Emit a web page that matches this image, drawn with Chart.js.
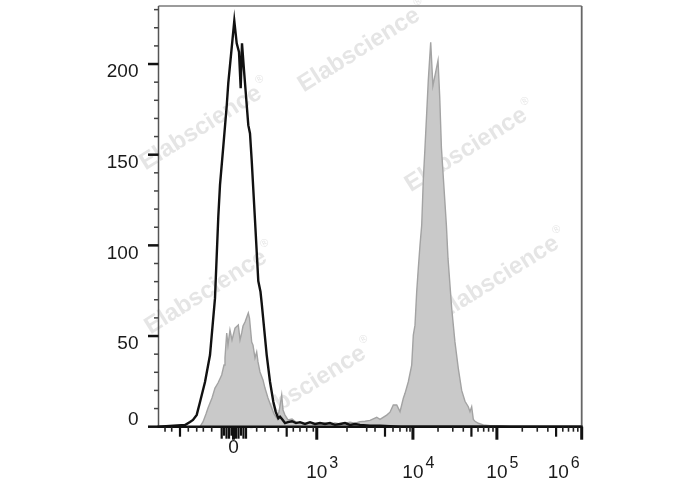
<!DOCTYPE html>
<html><head><meta charset="utf-8">
<script src="https://cdn.jsdelivr.net/npm/chart.js@4.4.0/dist/chart.umd.min.js"></script>
<style>html,body{margin:0;padding:0;background:#fff;}</style>
</head><body>
<canvas id="c" width="688" height="490"></canvas>
<script>
// ---- Data (x in display channels 0..1000 of the biexponential axis, y in counts) ----
const blackX = [0, 62.6, 74.4, 81.5, 90.3, 98.1, 109.9, 121.7, 133.5, 141.3, 145.3, 153.1, 161.2, 164.9, 179.1, 184.8, 190.2, 194.2, 197.3, 202.0, 212.2, 216.2, 220.2, 228.0, 235.8, 241.0, 243.9, 255.7, 263.5, 271.3, 276.9, 283.1, 287.1, 291.8, 298.9, 306.0, 315.5, 324.9, 334.3, 346.2, 358.0, 369.8, 381.6, 393.4, 405.2, 417.0, 428.9, 440.7, 452.5, 464.3, 476.1, 499.8, 523.4, 570.7, 1000];
const blackY = [0, 0.9, 2.6, 3.7, 6.5, 13.6, 24.6, 39.5, 70.9, 115.8, 133.2, 154.4, 177, 189.5, 223.8, 211.4, 206.7, 186.7, 211.4, 196.6, 166.3, 161.7, 147, 114, 80.3, 74.4, 68, 39.5, 24.8, 13.8, 8.3, 4.6, 5.5, 4.2, 2, 2.5, 3, 2, 2.5, 1.5, 2.5, 1.5, 2, 1.5, 2, 1, 1.5, 2, 1, 1.5, 1, 0.5, 0.5, 0, 0];

const grayX = [0, 98.1, 105.1, 112.2, 117.0, 126.4, 133.5, 140.6, 149.3, 154.8, 157.1, 161.2, 164.2, 168.9, 173.7, 180.8, 188.6, 192.6, 196.6, 199.7, 204.4, 212.2, 215.0, 220.2, 223.3, 228.0, 232.0, 235.1, 239.8, 246.9, 251.6, 258.7, 267.5, 272.9, 279.3, 284.7, 291.1, 294.2, 298.9, 306.0, 315.5, 324.9, 334.3, 346.2, 358.0, 369.8, 381.6, 393.4, 405.2, 417.0, 428.9, 440.7, 452.5, 464.3, 476.1, 487.9, 499.8, 515.6, 523.4, 539.2, 547.0, 554.8, 562.9, 570.7, 578.5, 582.5, 590.3, 598.3, 602.1, 606.1, 610.1, 613.9, 617.9, 621.9, 625.7, 629.7, 633.7, 637.5, 643.2, 648.4, 660.5, 664.5, 668.5, 672.3, 680.3, 684.1, 692.8, 700.4, 708.4, 716.4, 724.2, 732.0, 736.0, 740.0, 743.9, 747.9, 755.7, 767.5, 783.3, 807.0, 830.6, 1000];
const grayY = [0, 0, 2.6, 7, 10.3, 15.8, 21.3, 24.1, 28.5, 34, 37.9, 51.7, 45, 53.3, 47.8, 54.4, 56.1, 47.8, 51.7, 55.5, 57.7, 62.7, 59.9, 46.7, 45, 37.9, 41.2, 35.7, 30.2, 25.8, 21.3, 15.8, 10.3, 7, 4.8, 8.1, 17.5, 9.2, 6.4, 3.7, 4.2, 2.6, 2, 1.5, 2, 1, 1.5, 2, 1.5, 2, 1.5, 2, 2.5, 2, 2.8, 3, 3.5, 5.2, 4, 6.4, 8, 12, 12, 8.3, 15.7, 18.4, 24.8, 34, 50.5, 56, 74.4, 87.3, 100, 111, 136, 154, 172.8, 191, 212, 188, 202, 182, 154, 140, 111, 92.8, 65.3, 46.9, 32.2, 20, 14, 11, 8.3, 11, 4, 3, 1.9, 1, 0.5, 0.5, 0, 0];

// ---- Axis ticks ----
const xMajorTicks = [177.2, 374, 601.2, 799.6, 1000];
const xMajorLabels = ['0', '10^3', '10^4', '10^5', '10^6'];
const xLongTicks = [50.8, 302.9, 535.2, 739.4, 939.5];
const xShortTicks = [15.4, 31.2, 70.4, 90.3, 105.9, 125.7, 232.0, 251.6, 283.1, 318.5, 334.3, 350.2, 365.8,
  445.4, 492.0, 511.6, 554.1, 570.6, 586.5, 594.3,
  660.5, 695.4, 720.2, 755.0, 768.4, 780.0, 790.4,
  859.6, 895.0, 920.0, 955.3, 968.8, 980.4, 990.8];
const xZeroCluster = [149.3, 154.8, 160.7, 166.6, 172.5, 183.1, 189.0, 194.9, 200.8, 206.8];
const yMajorTicks = [0, 50, 100, 150, 200];
const yMajorLabels = ['0', '50', '100', '150', '200'];
const yMinorTicks = [10, 20, 30, 40, 60, 70, 80, 90, 110, 120, 130, 140, 160, 170, 180, 190, 210, 220, 230];
const watermarkText = 'Elabscience';
const watermarkSpots = [[0.474, 0.105], [0.100, 0.290], [0.727, 0.342], [0.112, 0.680], [0.802, 0.647], [0.346, 0.908]];

const toPts = (xs, ys) => xs.map((v, i) => ({x: v, y: ys[i]}));
const FONT = '"Liberation Sans", Arial, Helvetica, sans-serif';

const flowAxes = {
  id: 'flowAxes',
  beforeDatasetsDraw(chart) {
    const {ctx, chartArea: a} = chart;
    ctx.save();
    ctx.fillStyle = 'rgba(170,170,170,0.30)';
    ctx.textAlign = 'center';
    ctx.textBaseline = 'middle';
    watermarkSpots.forEach(([fx, fy]) => {
      const cx = a.left + fx * (a.right - a.left);
      const cy = a.top + fy * (a.bottom - a.top);
      ctx.save();
      ctx.translate(cx, cy);
      ctx.rotate(-32 * Math.PI / 180);
      ctx.font = 'bold 24px ' + FONT;
      ctx.fillText(watermarkText, 0, 0);
      const w = ctx.measureText(watermarkText).width;
      ctx.font = '11px ' + FONT;
      ctx.textAlign = 'left';
      ctx.fillText('\u00AE', w / 2 + 2, -10);
      ctx.restore();
    });
    ctx.restore();
  },
  afterDraw(chart) {
    const {ctx, chartArea: a, scales: {x, y}} = chart;
    ctx.save();
    const line = (x1, y1, x2, y2, w, c) => {
      ctx.strokeStyle = c; ctx.lineWidth = w;
      ctx.beginPath(); ctx.moveTo(x1, y1); ctx.lineTo(x2, y2); ctx.stroke();
    };
    // frame
    line(a.left, a.top, a.right, a.top, 1.5, '#7a7a7a');
    line(a.right, a.top, a.right, a.bottom, 1.8, '#666');
    line(a.left, a.top, a.left, a.bottom, 1.5, '#555');
    line(a.left - 1, a.bottom, a.right + 1, a.bottom, 2.5, '#111');
    // y ticks
    yMinorTicks.forEach(v => { const p = y.getPixelForValue(v); line(a.left - 4.5, p, a.left, p, 1.5, '#444'); });
    yMajorTicks.forEach(v => { const p = y.getPixelForValue(v); line(a.left - 10.5, p, a.left, p, 2.5, '#111'); });
    ctx.fillStyle = '#1a1a1a';
    ctx.font = '19px ' + FONT;
    ctx.textAlign = 'right';
    ctx.textBaseline = 'middle';
    yMajorTicks.forEach((v, i) => {
      const p = y.getPixelForValue(v) + (v === 0 ? -7 : 8);
      ctx.fillText(yMajorLabels[i], a.left - 20, p);
    });
    // x ticks
    const b = a.bottom;
    xShortTicks.forEach(v => { const p = x.getPixelForValue(v); line(p, b, p, b + 5, 1.6, '#222'); });
    xLongTicks.forEach(v => { const p = x.getPixelForValue(v); line(p, b, p, b + 10, 2.2, '#111'); });
    xZeroCluster.forEach((v, i) => { const p = x.getPixelForValue(v); line(p, b, p, b + (i % 3 === 1 ? 9 : 12), 2.2, '#111'); });
    xMajorTicks.forEach(v => { const p = x.getPixelForValue(v); line(p, b, p, b + 13, 3, '#111'); });
    // x labels
    xMajorLabels.forEach((lab, i) => {
      const p = x.getPixelForValue(xMajorTicks[i]);
      if (lab.indexOf('^') < 0) {
        ctx.font = '19px ' + FONT; ctx.textAlign = 'center'; ctx.textBaseline = 'middle';
        ctx.fillText(lab, p, b + 21);
        return;
      }
      const [base, exp] = lab.split('^');
      ctx.textBaseline = 'alphabetic'; ctx.textAlign = 'left';
      ctx.font = '19px ' + FONT;
      const wb = ctx.measureText(base).width;
      ctx.font = '16px ' + FONT;
      const we = ctx.measureText(exp).width;
      let start = p - wb / 2;
      if (start + wb + 2 + we > a.right) start = a.right - 2 - (wb + 2 + we);
      ctx.font = '19px ' + FONT;
      ctx.fillText(base, start, b + 51);
      ctx.font = '16px ' + FONT;
      ctx.fillText(exp, start + wb + 2, b + 41);
    });
    ctx.restore();
  }
};

new Chart(document.getElementById('c'), {
  type: 'line',
  data: {
    datasets: [
      {label: 'Control', data: toPts(blackX, blackY), borderColor: '#111', borderWidth: 2.4,
       fill: false, pointRadius: 0, tension: 0, order: 0},
      {label: 'Stained', data: toPts(grayX, grayY), borderColor: '#a3a3a3', borderWidth: 1.4,
       backgroundColor: '#c9c9c9', fill: 'origin', pointRadius: 0, tension: 0, order: 1}
    ]
  },
  options: {
    responsive: false,
    animation: false,
    layout: {padding: {left: 158.5, top: 6, right: 106.3, bottom: 63.3}},
    plugins: {legend: {display: false}, tooltip: {enabled: false}},
    scales: {
      x: {type: 'linear', min: 0, max: 1000, display: false},
      y: {type: 'linear', min: 0, max: 232, display: false}
    }
  },
  plugins: [flowAxes]
});
</script>
</body></html>
